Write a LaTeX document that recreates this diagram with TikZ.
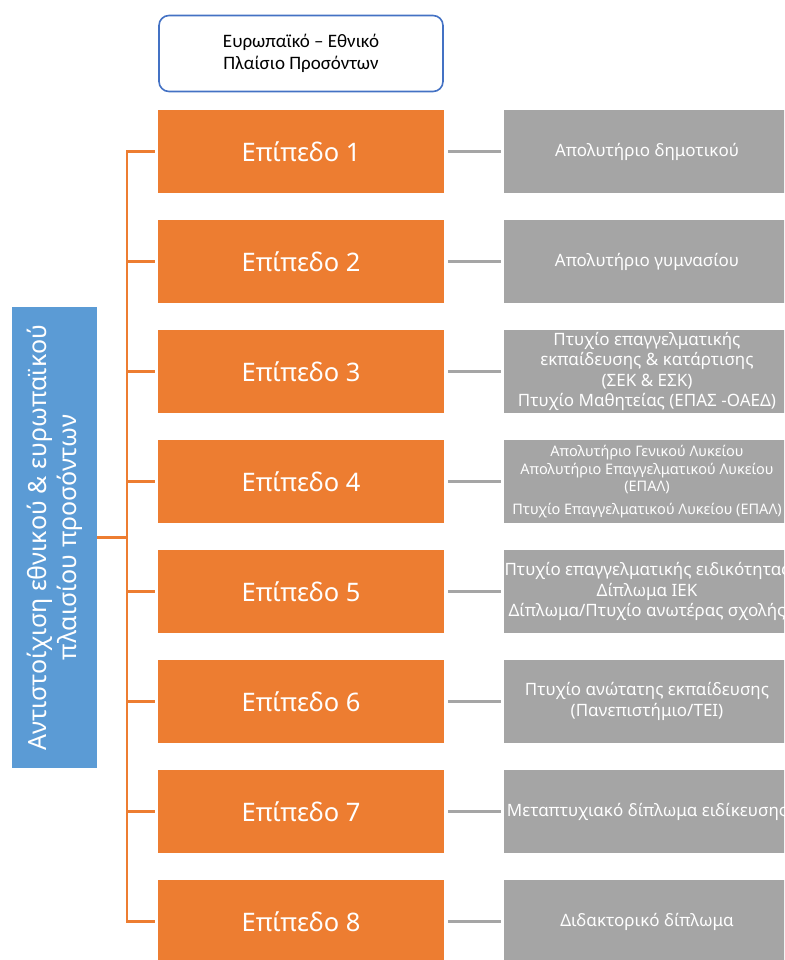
\documentclass[tikz,border=0pt]{standalone}
\usepackage{fontspec}
\setmainfont{Noto Sans}
\newfontfamily\calfont{Carlito}
\usetikzlibrary{positioning}
\definecolor{lvlorange}{HTML}{ED7D31}
\definecolor{qualgray}{HTML}{A5A5A5}
\definecolor{sideblue}{HTML}{5B9BD5}
\definecolor{frameblue}{HTML}{4472C4}
\begin{document}
\begin{tikzpicture}[x=1pt,y=-1pt]
\tikzstyle{level}=[fill=lvlorange, text=white, minimum width=286pt, minimum height=83pt, inner sep=0pt, font=\fontsize{25.5}{30}\selectfont]
\tikzstyle{qual}=[fill=qualgray, text=white, minimum width=286pt, minimum height=83pt, inner sep=0pt, align=center, font=\fontsize{17}{20.5}\selectfont]
\tikzstyle{bracket}=[draw=lvlorange, line width=2.2pt]
\tikzstyle{link}=[draw=qualgray, line width=2.2pt, shorten <=4pt, shorten >=3pt]
\useasboundingbox (0,0) rectangle (784,960);
\clip (0,0) rectangle (784,960);
\node (top) at (301,53.5) [draw=frameblue, line width=1.6pt, rounded corners=10pt, minimum width=284pt, minimum height=76pt, align=center, font=\calfont\fontsize{19}{22.5}\selectfont] {Ευρωπαϊκό – Εθνικό\\Πλαίσιο Προσόντων};
\node (side) at (54.5,537.5) [fill=sideblue, text=white, rotate=90, minimum width=461pt, minimum height=85pt, inner sep=0pt, align=center, font=\fontsize{25}{30}\selectfont] {Αντιστοίχιση εθνικού \& ευρωπαϊκού\\πλαισίου προσόντων};
\node (l1) at (301,151.5) [level] {Επίπεδο 1};
\node (l2) at (301,261.5) [level] {Επίπεδο 2};
\node (l3) at (301,371.5) [level] {Επίπεδο 3};
\node (l4) at (301,481.5) [level] {Επίπεδο 4};
\node (l5) at (301,591.5) [level] {Επίπεδο 5};
\node (l6) at (301,701.5) [level] {Επίπεδο 6};
\node (l7) at (301,811.5) [level] {Επίπεδο 7};
\node (l8) at (301,921.5) [level] {Επίπεδο 8};
\node (q1) at (647,151.5) [qual] {Απολυτήριο δημοτικού};
\node (q2) at (647,261.5) [qual] {Απολυτήριο γυμνασίου};
\node (q3) at (647,371.5) [qual] {Πτυχίο επαγγελματικής\\εκπαίδευσης \& κατάρτισης\\(ΣΕΚ \& ΕΣΚ)\\Πτυχίο Μαθητείας (ΕΠΑΣ -ΟΑΕΔ)};
\node (q4) at (647,481.5) [qual, font=\fontsize{14.5}{17.5}\selectfont] {Απολυτήριο Γενικού Λυκείου\\Απολυτήριο Επαγγελματικού Λυκείου\\(ΕΠΑΛ)\\[5pt]Πτυχίο Επαγγελματικού Λυκείου (ΕΠΑΛ)};
\node (q5) at (647,591.5) [qual] {Πτυχίο επαγγελματικής ειδικότητας\\Δίπλωμα ΙΕΚ\\Δίπλωμα/Πτυχίο ανωτέρας σχολής};
\node (q6) at (647,701.5) [qual] {Πτυχίο ανώτατης εκπαίδευσης\\(Πανεπιστήμιο/ΤΕΙ)};
\node (q7) at (647,811.5) [qual] {Μεταπτυχιακό δίπλωμα ειδίκευσης};
\node (q8) at (647,921.5) [qual] {Διδακτορικό δίπλωμα};
% orange bracket
\draw[bracket] (side.south) -- ++(30,0) coordinate (mid);
\draw[bracket] (mid) |- ([xshift=-3pt]l1.west);
\draw[bracket] (mid) |- ([xshift=-3pt]l2.west);
\draw[bracket] (mid) |- ([xshift=-3pt]l3.west);
\draw[bracket] (mid) |- ([xshift=-3pt]l4.west);
\draw[bracket] (mid) |- ([xshift=-3pt]l5.west);
\draw[bracket] (mid) |- ([xshift=-3pt]l6.west);
\draw[bracket] (mid) |- ([xshift=-3pt]l7.west);
\draw[bracket] (mid) |- ([xshift=-3pt]l8.west);
% gray links
\draw[link] (l1) -- (q1);
\draw[link] (l2) -- (q2);
\draw[link] (l3) -- (q3);
\draw[link] (l4) -- (q4);
\draw[link] (l5) -- (q5);
\draw[link] (l6) -- (q6);
\draw[link] (l7) -- (q7);
\draw[link] (l8) -- (q8);
\end{tikzpicture}
\end{document}
